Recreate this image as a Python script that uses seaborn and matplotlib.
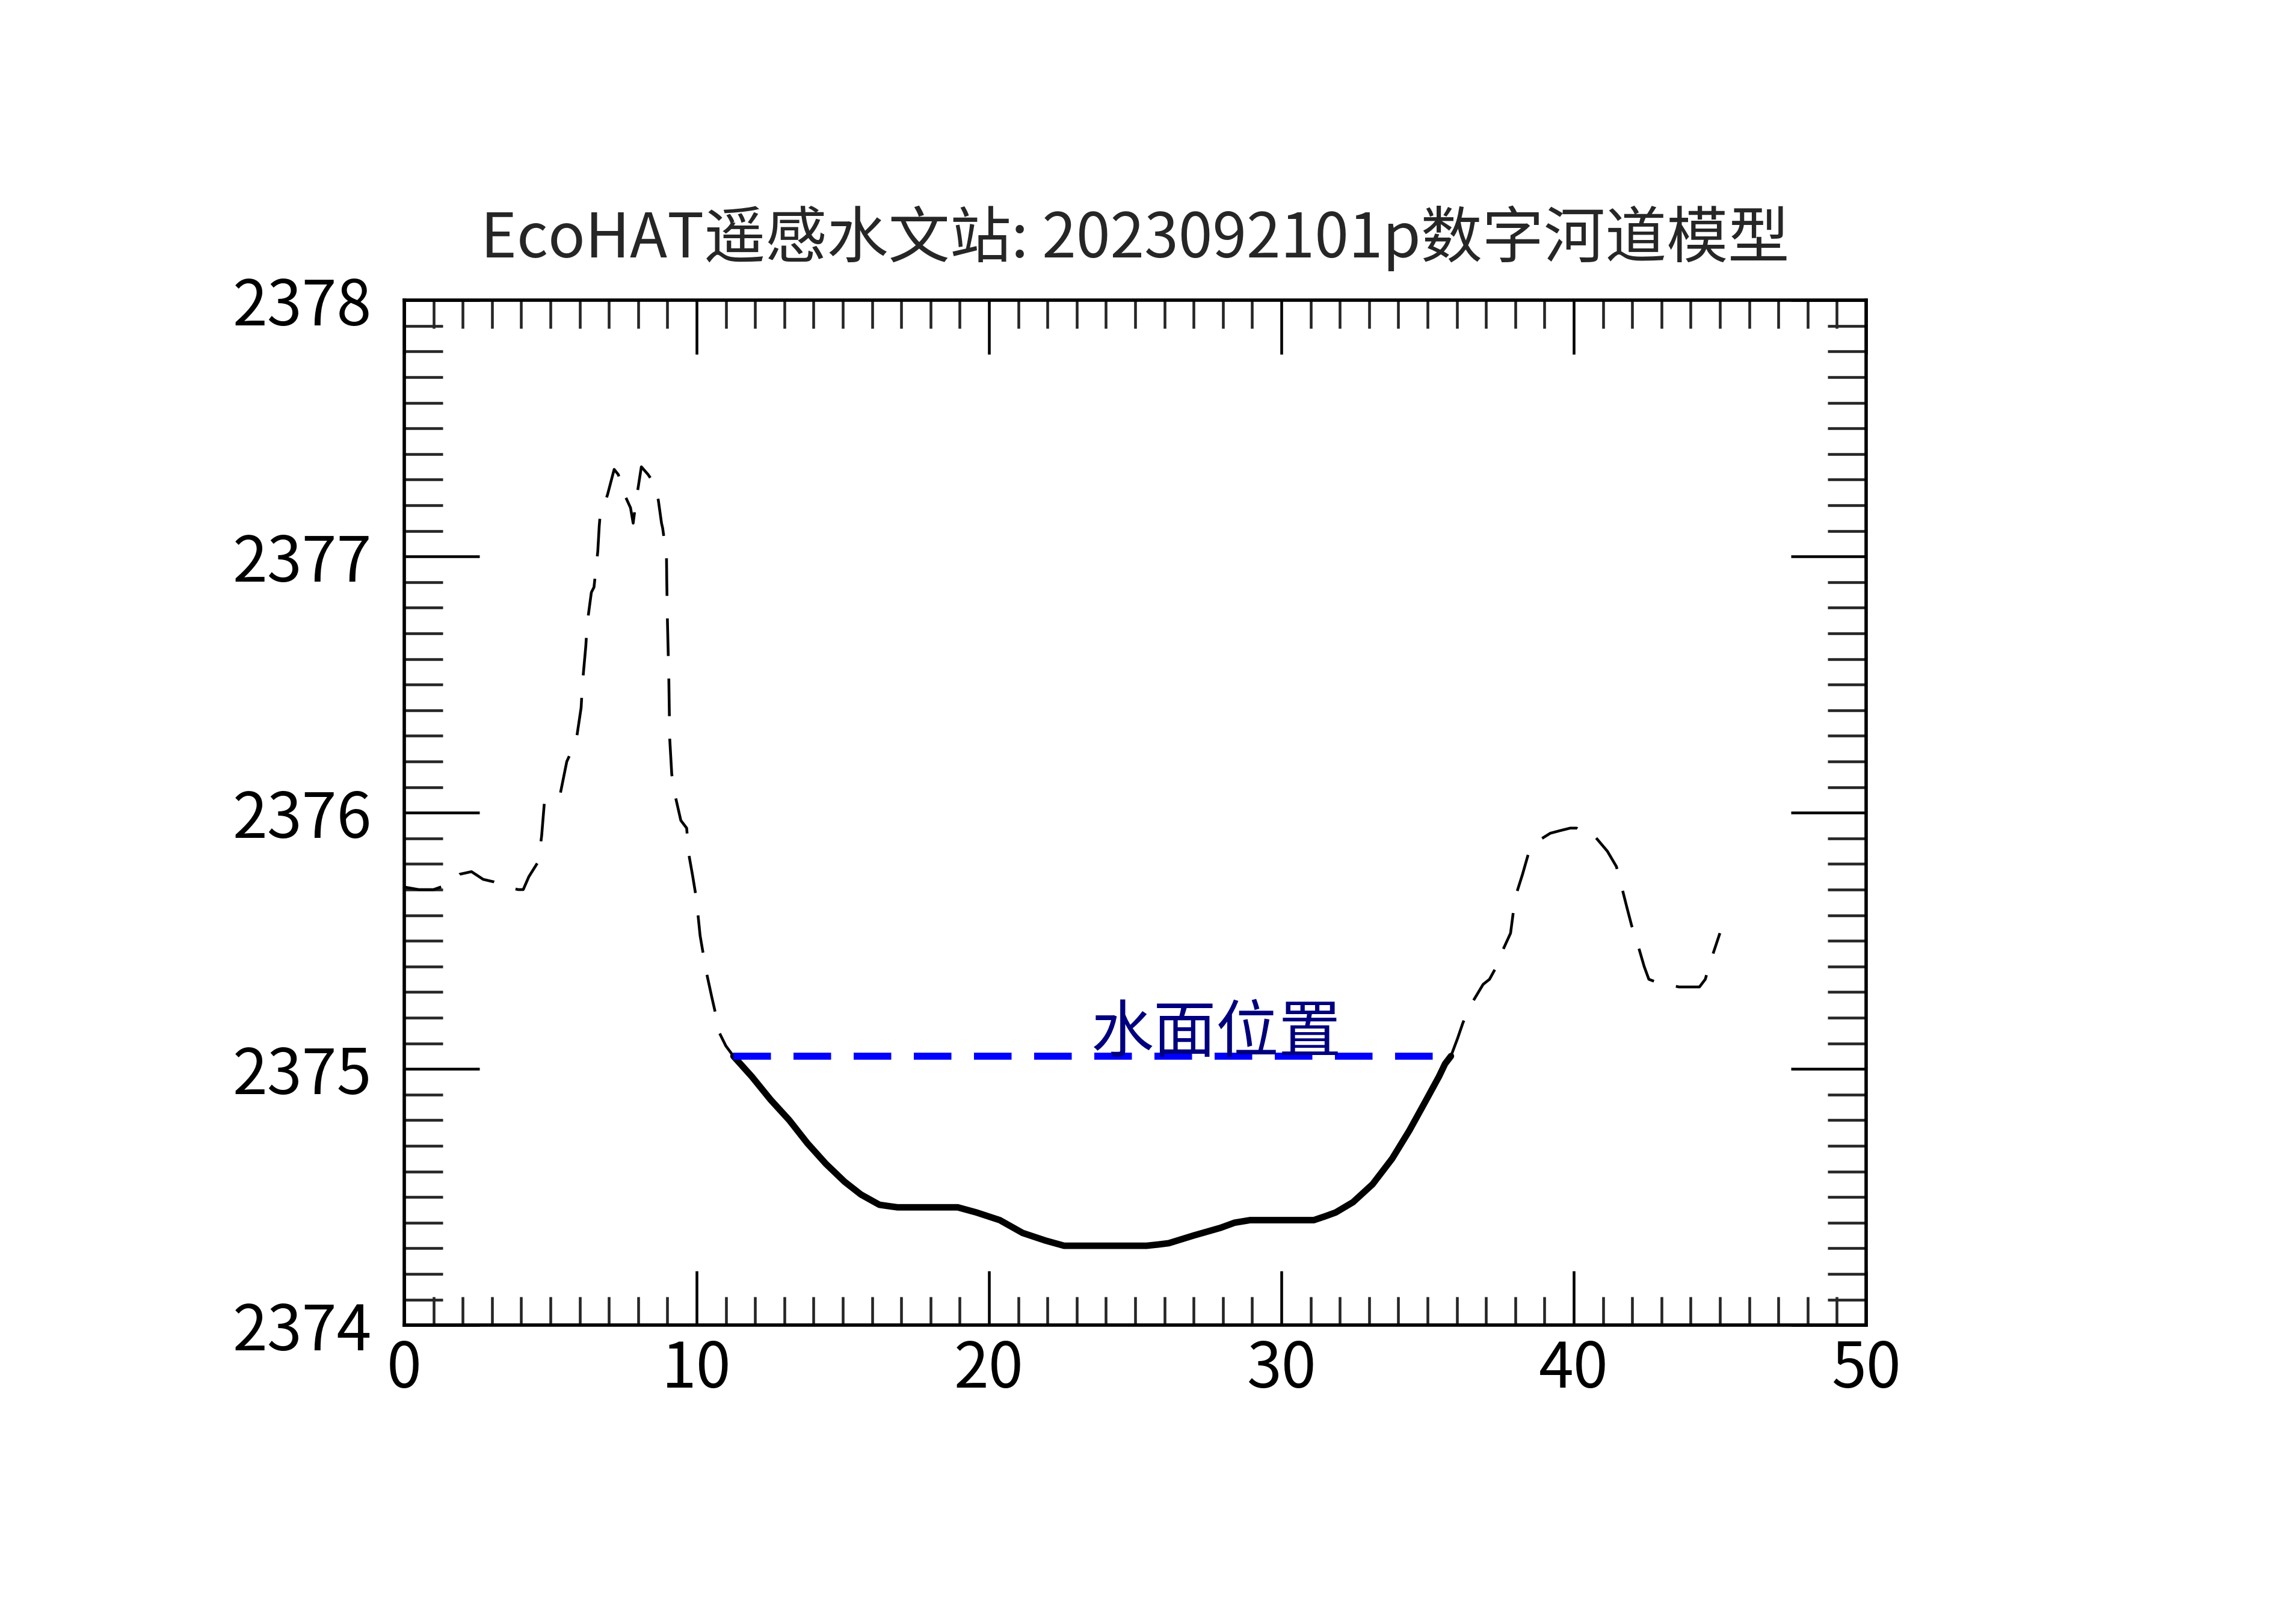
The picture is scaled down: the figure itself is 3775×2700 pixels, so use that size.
import matplotlib
matplotlib.use('Agg')
import matplotlib.pyplot as plt
from matplotlib.ticker import MultipleLocator
import seaborn as sns
import pandas as pd

# cross-section profile (distance m, elevation m)
distance = [0.0, 0.5, 1.0, 1.5, 1.9, 2.3, 2.7, 3.07, 3.5, 3.9, 4.07, 4.26, 4.59,
            4.7, 4.8, 5.33, 5.56, 5.88, 6.05, 6.1, 6.21, 6.26, 6.4, 6.49, 6.62,
            6.67, 6.7, 6.95, 7.18, 7.32, 7.58, 7.74, 7.83, 7.92, 8.11, 8.34, 8.52,
            8.69, 8.8, 8.84, 8.97, 8.98, 9.0, 9.05, 9.08, 9.15, 9.28, 9.46, 9.66,
            9.73, 9.87, 9.97, 10.04, 10.12, 10.33, 10.52, 10.66, 10.74, 11.0,
            11.26, 11.89, 12.53, 13.17, 13.79, 14.42, 15.06, 15.62, 16.25, 16.55,
            16.87, 18.93, 19.25, 19.57, 20.37, 21.15, 21.94, 22.57, 23.21, 25.39,
            25.8, 26.15, 27.0, 27.92, 28.4, 28.93, 29.5, 31.11, 31.5, 31.86, 32.45,
            33.12, 33.79, 34.38, 34.96, 35.39, 35.6, 35.8,
            36.03, 36.21, 36.48, 36.9, 37.12, 37.36,
            37.52, 37.84, 38.0, 38.25, 38.5, 38.78, 39.2, 39.53, 39.88, 40.1,
            40.34, 40.63, 41.15, 41.46, 41.62, 41.82, 41.98, 42.18, 42.41, 42.57,
            42.8, 43.19, 43.6, 44.03, 44.3, 44.5, 44.65, 45.0]
elevation = [2375.71, 2375.70, 2375.70, 2375.72, 2375.76, 2375.77, 2375.74, 2375.73,
             2375.71, 2375.70, 2375.70, 2375.75, 2375.81, 2375.91, 2376.05, 2376.07,
             2376.20, 2376.28, 2376.41, 2376.51, 2376.65, 2376.74, 2376.86, 2376.88,
             2377.02, 2377.12, 2377.16, 2377.24, 2377.34, 2377.32, 2377.23, 2377.19,
             2377.13, 2377.21, 2377.35, 2377.32, 2377.29, 2377.22, 2377.13, 2377.11,
             2377.00, 2376.90, 2376.76, 2376.52, 2376.29, 2376.15, 2376.06, 2375.97,
             2375.94, 2375.84, 2375.75, 2375.68, 2375.61, 2375.52, 2375.38, 2375.28,
             2375.21, 2375.15, 2375.09,
             2375.05, 2374.97, 2374.88, 2374.80, 2374.71, 2374.63, 2374.56, 2374.51,
             2374.47, 2374.465, 2374.46, 2374.46, 2374.45, 2374.44, 2374.41, 2374.36,
             2374.33, 2374.31, 2374.31, 2374.31, 2374.315, 2374.32, 2374.35, 2374.38,
             2374.40, 2374.41, 2374.41, 2374.41, 2374.425, 2374.44, 2374.48, 2374.55,
             2374.65, 2374.76, 2374.88, 2374.97, 2375.02, 2375.05,
             2375.12, 2375.18, 2375.25, 2375.33,
             2375.35, 2375.40, 2375.45, 2375.53, 2375.67, 2375.76, 2375.86, 2375.89,
             2375.92, 2375.93, 2375.94, 2375.94, 2375.92, 2375.92, 2375.85, 2375.79,
             2375.72, 2375.63, 2375.56, 2375.49, 2375.40, 2375.35, 2375.34, 2375.33,
             2375.32, 2375.32, 2375.32, 2375.35, 2375.41, 2375.53]

water_level = 2375.05
water_x = [11.26, 35.7]
water_label = '水面位置'
title = 'EcoHAT遥感水文站: 2023092101p数字河道模型'

sns.set_style('white')
plt.rcParams['font.family'] = ['Noto Sans CJK SC', 'DejaVu Sans']
plt.rcParams['font.weight'] = 'medium'
plt.rcParams['lines.scale_dashes'] = False

df = pd.DataFrame({'x': distance, 'z': elevation})
wet = df[df['z'] <= water_level + 1e-9]
water = pd.DataFrame({'x': water_x, 'z': [water_level] * len(water_x)})

fig = plt.figure(figsize=(3775 / 300, 2700 / 300), dpi=300)
ax = fig.add_axes([0.178, 0.184, 0.6437, 0.6311])

# ground profile, dashed
sns.lineplot(data=df, x='x', y='z', ax=ax, sort=False, estimator=None,
             color='black', lw=1.1)
ax.lines[-1].set_dashes((15, 9))
# wetted bed, solid
sns.lineplot(data=wet, x='x', y='z', ax=ax, sort=False, estimator=None,
             color='black', lw=2.6)
ax.lines[-1].set_solid_joinstyle('round')
# water surface
sns.lineplot(data=water, x='x', y='z', ax=ax, sort=False, estimator=None,
             color='#0000FF', lw=2.8)
ax.lines[-1].set_dashes((15, 9))

ax.text(23.5, 2375.135, water_label, color='#00007F', fontsize=25,
        ha='left', va='center')

ax.set_xlim(0, 50)
ax.set_ylim(2374, 2378)
ax.xaxis.set_major_locator(MultipleLocator(10))
ax.xaxis.set_minor_locator(MultipleLocator(1))
ax.yaxis.set_major_locator(MultipleLocator(1))
ax.yaxis.set_minor_locator(MultipleLocator(0.1))
ax.set_xlabel('')
ax.set_ylabel('')

ax.tick_params(axis='x', which='major', direction='in', length=21.5, width=1.1,
               top=True, bottom=True, labelsize=25, pad=5, colors='black')
ax.tick_params(axis='x', which='minor', direction='in', length=11.3, width=1.1,
               top=True, bottom=True)
ax.tick_params(axis='y', which='major', direction='in', length=30, width=1.1,
               left=True, right=True, labelsize=25, pad=13, colors='black')
ax.tick_params(axis='y', which='minor', direction='in', length=15.4, width=1.1,
               left=True, right=True)
for s in ax.spines.values():
    s.set_color('black')
    s.set_linewidth(1.35)

ax.set_title(title, fontsize=24.5, pad=17)

fig.savefig('out.png', dpi=300, facecolor='white')
